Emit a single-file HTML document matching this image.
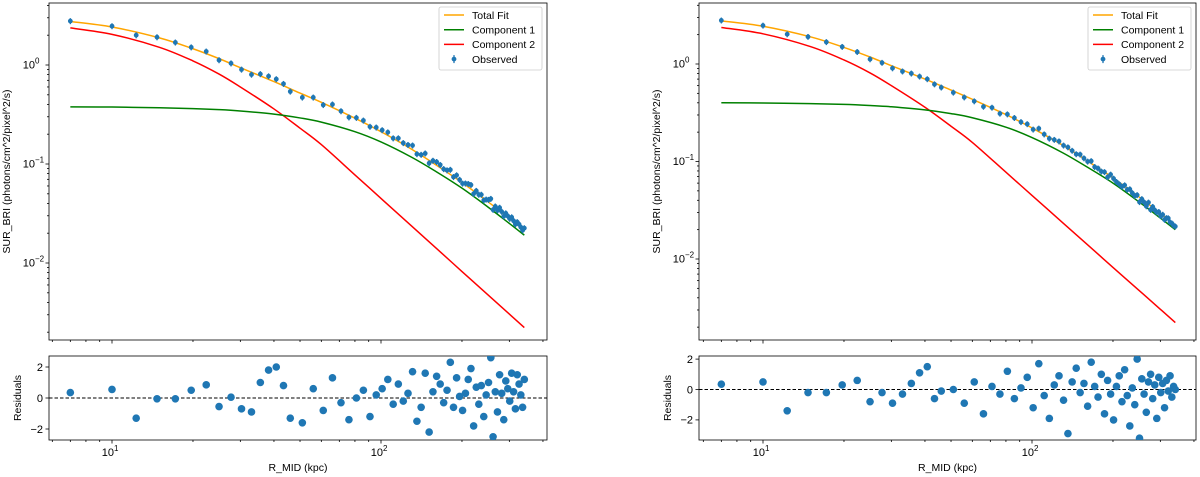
<!DOCTYPE html>
<html><head><meta charset="utf-8">
<style>
html,body{margin:0;padding:0;background:#fff;}
svg{display:block;font-family:"Liberation Sans","DejaVu Sans",sans-serif;}
</style></head>
<body>
<svg id="fig" width="1200" height="477" viewBox="0 0 1200 477" xmlns="http://www.w3.org/2000/svg"></svg>
<script>
// ---- shared radii (kpc) ----
const obsR = [7,10,12.3,14.7,17.2,19.7,22.4,25,27.7,30.3,33,35.6,38.2,40.8,43.4,46,51,56,61,66,71,76,81,86,91,96,101,106,111,116,121,126,131,136,141,146,151,156,161,166,171,176,181,186,191,196,201,206,211,216,221,226,231,236,241,246,251,256,261,266,271,276,281,286,291,296,301,306,311,316,321,326,331,336,341];
const fitR = [7,10,15,20,25,30,40,50,60,80,100,130,160,200,250,300,341];
// ---- left panel ----
const leftObs = [2.78,2.47,2.00,1.91,1.69,1.51,1.37,1.12,1.04,0.90,0.80,0.81,0.77,0.72,0.645,0.54,0.47,0.470,0.395,0.40,0.342,0.296,0.293,0.275,0.238,0.234,0.220,0.209,0.182,0.182,0.163,0.156,0.154,0.126,0.124,0.128,0.102,0.108,0.105,0.098,0.089,0.0865,0.0875,0.0740,0.0770,0.0693,0.0635,0.0636,0.0630,0.0615,0.0500,0.0536,0.0490,0.0490,0.0430,0.0438,0.0435,0.0445,0.0345,0.0373,0.0340,0.0362,0.0330,0.0296,0.0318,0.0298,0.0280,0.0290,0.0267,0.0246,0.0259,0.0246,0.0230,0.0214,0.0225];
const leftRes = [0.35,0.55,-1.3,-0.05,-0.05,0.5,0.85,-0.55,0.05,-0.7,-0.9,1.0,1.8,2.0,0.8,-1.3,-1.6,0.6,-0.8,1.3,-0.3,-1.4,0.0,0.5,-1.2,0.2,0.6,1.2,-0.4,0.9,-0.2,0.3,1.7,-1.5,-0.6,1.6,-2.2,0.4,1.4,0.9,-0.3,0.5,2.3,-0.6,1.3,0.1,-0.8,0.3,1.2,1.9,-1.8,0.7,-0.4,0.8,-1.2,0.2,1.0,2.6,-2.5,0.4,-0.9,1.5,0.3,-1.4,1.1,0.6,-0.2,1.6,0.4,-0.7,1.5,0.9,0.2,-0.6,1.2];
const leftTotal = [2.75,2.42,1.88,1.46,1.16,0.94,0.68,0.52,0.42,0.290,0.212,0.141,0.098,0.065,0.0415,0.0282,0.0213];
const leftComp1 = [0.378,0.376,0.370,0.363,0.354,0.343,0.319,0.292,0.265,0.212,0.167,0.117,0.084,0.057,0.0367,0.0251,0.0191];
const leftComp2 = [2.37,2.04,1.51,1.10,0.81,0.60,0.36,0.23,0.157,0.0776,0.0449,0.0236,0.0142,0.0082,0.00476,0.00305,0.00223];
// ---- right panel ----
const rightObs = [2.80,2.48,2.02,1.90,1.68,1.50,1.33,1.12,1.03,0.905,0.84,0.80,0.745,0.70,0.62,0.575,0.51,0.455,0.415,0.365,0.357,0.31,0.305,0.28,0.254,0.242,0.213,0.218,0.19,0.172,0.167,0.161,0.146,0.140,0.129,0.119,0.118,0.108,0.100,0.101,0.088,0.085,0.079,0.078,0.069,0.0735,0.0668,0.0618,0.0585,0.0552,0.0571,0.0513,0.0520,0.0475,0.0445,0.0453,0.0384,0.0412,0.0382,0.0348,0.0380,0.0320,0.0343,0.0317,0.0300,0.0304,0.0276,0.0285,0.0253,0.0263,0.0262,0.0238,0.0232,0.0221,0.0216];
const rightRes = [0.35,0.5,-1.4,-0.2,-0.2,0.3,0.6,-0.8,-0.2,-0.9,-0.3,0.4,1.1,1.5,-0.6,-0.1,0.0,-0.9,0.5,-1.6,0.2,-0.3,1.2,-0.6,0.1,0.8,-1.2,1.7,-0.4,-1.9,0.3,0.9,-0.7,-2.9,0.5,1.4,-0.2,0.4,-1.1,1.8,0.2,-0.5,1.0,-1.6,0.6,-0.3,-2.0,0.2,0.9,-0.8,1.3,-0.4,-2.4,0.1,-1.0,2.0,-3.2,0.7,-0.3,-1.5,0.5,1.0,-0.6,0.3,-1.9,0.8,-0.2,0.4,-1.2,0.6,-0.1,0.9,-0.5,0.2,0.0];
const rightTotal = [2.77,2.44,1.90,1.48,1.18,0.96,0.70,0.54,0.435,0.303,0.221,0.147,0.102,0.068,0.0433,0.0294,0.0222];
const rightComp1 = [0.40,0.398,0.392,0.385,0.375,0.364,0.338,0.310,0.281,0.225,0.176,0.123,0.088,0.060,0.0385,0.0263,0.0200];
const rightComp2 = [2.37,2.04,1.51,1.10,0.81,0.60,0.36,0.23,0.157,0.0776,0.0449,0.0236,0.0142,0.0082,0.00476,0.00305,0.00223];
// ---- tick labels ----
const xTickVals = [10,100];
const xTickExp = ["1","2"];
const yTickVals = [1,0.1,0.01];
const yTickExp = ["0","\u22121","\u22122"];
const resTickVals = [2,0,-2];
const resTickLabels = ["2","0","\u22122"];
const legendLabels = ["Total Fit","Component 1","Component 2","Observed"];

const NS = "http://www.w3.org/2000/svg";
const fig = document.getElementById('fig');
function mk(tag, attrs, parent){
  const e = document.createElementNS(NS, tag);
  for (const k in attrs) e.setAttribute(k, attrs[k]);
  (parent||fig).appendChild(e);
  return e;
}
function smoothPath(pts){
  let d = 'M' + pts[0][0].toFixed(2) + ',' + pts[0][1].toFixed(2);
  for (let i=0; i<pts.length-1; i++){
    const p0 = pts[i-1] || pts[i], p1 = pts[i], p2 = pts[i+1], p3 = pts[i+2] || p2;
    const c1x = p1[0] + (p2[0]-p0[0])/6, c1y = p1[1] + (p2[1]-p0[1])/6;
    const c2x = p2[0] - (p3[0]-p1[0])/6, c2y = p2[1] - (p3[1]-p1[1])/6;
    d += 'C' + c1x.toFixed(2)+','+c1y.toFixed(2)+' '+c2x.toFixed(2)+','+c2y.toFixed(2)+' '+p2[0].toFixed(2)+','+p2[1].toFixed(2);
  }
  return d;
}

function drawPanel(P){
  const g = mk('g', {});
  
  
  const xs = r => P.x10 + 269*(Math.log10(r)-1);
  const ys = v => P.y1val - P.ydec*Math.log10(v);
  const rs = v => P.res0 - P.resUnit*v;
  const clipId = P.name+'-clip';
  const defs = mk('defs', {}, g);
  const cp = mk('clipPath', {id: clipId}, defs);
  mk('rect', {x:P.x0, y:P.my0, width:P.x1-P.x0, height:P.my1-P.my0}, cp);
  const cp2 = mk('clipPath', {id: clipId+'r'}, defs);
  mk('rect', {x:P.x0, y:P.ry0, width:P.x1-P.x0, height:P.ry1-P.ry0}, cp2);

  const frame = mk('rect', {x:P.x0, y:P.my0, width:P.x1-P.x0, height:P.my1-P.my0, fill:'#fff', stroke:'#000', 'stroke-width':0.8}, g);
  
  

  const series = [[P.c2,'#ff0000','component-2-line'],[P.c1,'#008000','component-1-line'],[P.tot,'#ffa500','total-fit-line']];
  series.forEach(s=>{
    const pts = fitR.map((r,i)=>[xs(r), ys(s[0][i])]);
    const p = mk('path', {d:smoothPath(pts), fill:'none', stroke:s[1], 'stroke-width':1.5, 'clip-path':'url(#'+clipId+')'}, g);
    
    
  });

  const og = mk('g', {'clip-path':'url(#'+clipId+')'}, g);
  
  
  obsR.forEach((r,i)=>{
    const v = P.obs[i];
    const x = xs(r), y = ys(v);
    const e = 0.07;
    mk('line', {x1:x, x2:x, y1:ys(v*(1+e)), y2:ys(v*(1-e)), stroke:'#1f77b4', 'stroke-width':1.3}, og);
    const c = mk('circle', {cx:x, cy:y, r:2.4, fill:'#1f77b4'}, og);
    
    
  });

  for (let d=-3; d<=0; d++){
    for (let m=1; m<=9; m++){
      const v = m*Math.pow(10,d);
      const y = ys(v);
      if (y < P.my0-0.5 || y > P.my1+0.5) continue;
      mk('line', {x1:P.x0, x2:P.x0-(m===1?3.5:2), y1:y, y2:y, stroke:'#000', 'stroke-width':0.8}, g);
    }
  }
  yTickVals.forEach((v,i)=>{
    const y = ys(v);
    const t = mk('text', {x:P.x0-14, y:y+3.5, 'font-size':11, 'text-anchor':'end', fill:'#000'}, g);
    t.textContent = '10';
    
    
    const s = mk('text', {x:P.x0-14, y:y-1.5, 'font-size':8, 'text-anchor':'start', fill:'#000'}, g);
    s.textContent = yTickExp[i];
    
    
  });
  function xTicks(ybase, labels){
    for (let d=0; d<=2; d++){
      for (let m=1; m<=9; m++){
        const r = m*Math.pow(10,d);
        const x = xs(r);
        if (x < P.x0-0.5 || x > P.x1+0.5) continue;
        mk('line', {x1:x, x2:x, y1:ybase, y2:ybase+(m===1?3.5:2), stroke:'#000', 'stroke-width':0.8}, g);
      }
    }
    if (labels){
      xTickVals.forEach((r,i)=>{
        const x = xs(r);
        const t = mk('text', {x:x+2, y:ybase+16, 'font-size':11, 'text-anchor':'end', fill:'#000'}, g);
        t.textContent = '10';
        
        
        const s = mk('text', {x:x+2, y:ybase+11, 'font-size':8, fill:'#000'}, g);
        s.textContent = xTickExp[i];
        
        
      });
    }
  }
  xTicks(P.my1, false);

  const lx = P.x1-108, ly = 7;
  const lg = mk('g', {}, g);
  
  
  mk('rect', {x:lx, y:ly, width:103, height:63, rx:2, fill:'#fff', 'fill-opacity':0.8, stroke:'#ccc', 'stroke-width':0.8}, lg);
  const lcols = ['#ffa500','#008000','#ff0000'];
  legendLabels.forEach((lab,i)=>{
    const yy = ly + 8 + i*14.7;
    if (i<3) mk('line', {x1:lx+5, x2:lx+25, y1:yy, y2:yy, stroke:lcols[i], 'stroke-width':1.5}, lg);
    else { mk('line', {x1:lx+15, x2:lx+15, y1:yy-4, y2:yy+4, stroke:'#1f77b4', 'stroke-width':1.3}, lg); mk('circle', {cx:lx+15, cy:yy, r:2.4, fill:'#1f77b4'}, lg); }
    const t = mk('text', {x:lx+33, y:yy+3.8, 'font-size':10.5, fill:'#000'}, lg);
    t.textContent = lab;
    
    
  });

  const rf = mk('rect', {x:P.x0, y:P.ry0, width:P.x1-P.x0, height:P.ry1-P.ry0, fill:'#fff', stroke:'#000', 'stroke-width':0.8}, g);
  
  
  const zl = mk('line', {x1:P.x0, x2:P.x1, y1:rs(0), y2:rs(0), stroke:'#000', 'stroke-width':1, 'stroke-dasharray':'3.5,2'}, g);
  
  
  const rg = mk('g', {'clip-path':'url(#'+clipId+'r)'}, g);
  
  
  obsR.forEach((r,i)=>{
    const c = mk('circle', {cx:xs(r), cy:rs(P.res[i]), r:3.8, fill:'#1f77b4'}, rg);
    
    
  });
  resTickVals.forEach((v,i)=>{
    const y = rs(v);
    mk('line', {x1:P.x0, x2:P.x0-3.5, y1:y, y2:y, stroke:'#000', 'stroke-width':0.8}, g);
    const t = mk('text', {x:P.x0-6, y:y+3.8, 'font-size':11, 'text-anchor':'end', fill:'#000'}, g);
    t.textContent = resTickLabels[i];
    
    
  });
  xTicks(P.ry1, true);

  const yl = mk('text', {x:0, y:0, 'font-size':10.5, 'text-anchor':'middle', fill:'#000', transform:'translate('+(P.x0-39)+','+((P.my0+P.my1)/2)+') rotate(-90)'}, g);
  yl.textContent = 'SUR_BRI (photons/cm^2/pixel^2/s)';
  
  
  const rl = mk('text', {x:0, y:0, 'font-size':10.5, 'text-anchor':'middle', fill:'#000', transform:'translate('+(P.x0-28)+','+((P.ry0+P.ry1)/2)+') rotate(-90)'}, g);
  rl.textContent = 'Residuals';
  
  
  const xl = mk('text', {x:(P.x0+P.x1)/2, y:471, 'font-size':10.5, 'text-anchor':'middle', fill:'#000'}, g);
  xl.textContent = 'R_MID (kpc)';
  
  
}

drawPanel({name:'left-panel', x0:49, x1:547, x10:112, my0:3, my1:340, y1val:65, ydec:99, ry0:356, ry1:440, res0:398, resUnit:15.5,
  obs:leftObs, res:leftRes, tot:leftTotal, c1:leftComp1, c2:leftComp2});
drawPanel({name:'right-panel', x0:699, x1:1196, x10:763, my0:3, my1:340, y1val:64, ydec:97.5, ry0:356, ry1:440, res0:389.5, resUnit:15.2,
  obs:rightObs, res:rightRes, tot:rightTotal, c1:rightComp1, c2:rightComp2});
</script>
</body></html>
